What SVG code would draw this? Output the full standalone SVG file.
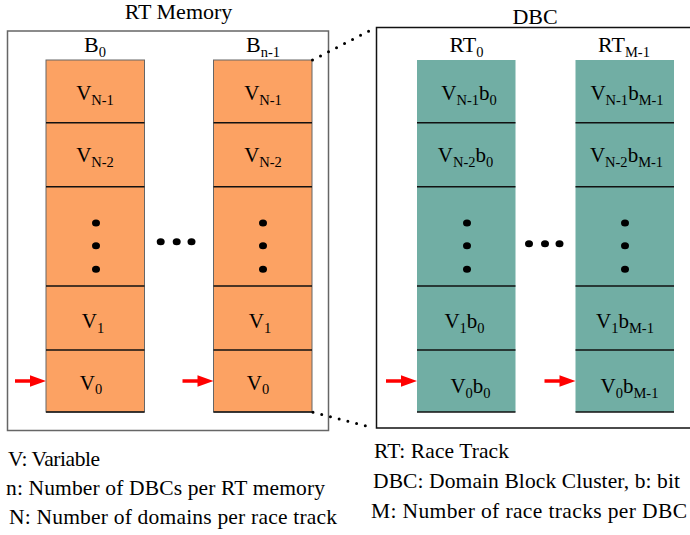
<svg xmlns="http://www.w3.org/2000/svg" width="690" height="535" viewBox="0 0 690 535">
<style>
text{font-family:"Liberation Serif","Times New Roman",serif;fill:#000}
.t{font-size:22px;text-anchor:middle}
.c{font-size:21px;text-anchor:middle}
.s{font-size:14.5px}
.lg{font-size:21.5px}
.org{fill:#FCA263;stroke:#666;stroke-width:1}
.teal{fill:#71AEA4;stroke:none}
.div{stroke:#111;stroke-width:1.5}
.box{fill:none;stroke:#666;stroke-width:1.5}
.dot{fill:#000}
.red{fill:#F00;stroke:none}
.conn{stroke:#000;stroke-width:3;stroke-linecap:round;stroke-dasharray:0 9;fill:none}
</style>
<g id="rt-memory">
<rect class="box" x="7.5" y="31" width="321" height="399.5"/>
<text class="t" x="178.5" y="19">RT Memory</text>
</g>
<g id="dbc">
<path d="M700,27.5 H376.5 V428 H700" fill="none" stroke="#111" stroke-width="1.5"/>
<text class="t" x="535" y="24">DBC</text>
</g>
<g id="b0">
<text class="t" x="95" y="52">B<tspan class="s" dy="4.5">0</tspan></text>
<rect class="org" x="46" y="60" width="98.5" height="352"/>
<line class="div" x1="46" y1="122.7" x2="144.5" y2="122.7"/>
<line class="div" x1="46" y1="186.7" x2="144.5" y2="186.7"/>
<line class="div" x1="46" y1="286" x2="144.5" y2="286"/>
<line class="div" x1="46" y1="350" x2="144.5" y2="350"/>
<line class="div" x1="46" y1="412" x2="144.5" y2="412"/>
<text class="c" x="95" y="100">V<tspan class="s" dy="4.5">N-1</tspan></text>
<text class="c" x="95" y="162">V<tspan class="s" dy="4.5">N-2</tspan></text>
<ellipse class="dot" cx="96" cy="223" rx="4" ry="3.5"/>
<ellipse class="dot" cx="96" cy="245.7" rx="4" ry="3.5"/>
<ellipse class="dot" cx="96" cy="269.3" rx="4" ry="3.5"/>
<text class="c" x="93" y="328.3">V<tspan class="s" dy="4.5">1</tspan></text>
<text class="c" x="91" y="389.5">V<tspan class="s" dy="4.5">0</tspan></text>
</g>
<g id="bn1">
<text class="t" x="263" y="52">B<tspan class="s" dy="4.5">n-1</tspan></text>
<rect class="org" x="213.5" y="60" width="98.5" height="352"/>
<line class="div" x1="213.5" y1="122.7" x2="312" y2="122.7"/>
<line class="div" x1="213.5" y1="186.7" x2="312" y2="186.7"/>
<line class="div" x1="213.5" y1="286" x2="312" y2="286"/>
<line class="div" x1="213.5" y1="350" x2="312" y2="350"/>
<line class="div" x1="213.5" y1="412" x2="312" y2="412"/>
<text class="c" x="263" y="100">V<tspan class="s" dy="4.5">N-1</tspan></text>
<text class="c" x="263" y="162">V<tspan class="s" dy="4.5">N-2</tspan></text>
<ellipse class="dot" cx="263" cy="223" rx="4" ry="3.5"/>
<ellipse class="dot" cx="263" cy="245.7" rx="4" ry="3.5"/>
<ellipse class="dot" cx="263" cy="269.3" rx="4" ry="3.5"/>
<text class="c" x="260" y="328.3">V<tspan class="s" dy="4.5">1</tspan></text>
<text class="c" x="258" y="389.5">V<tspan class="s" dy="4.5">0</tspan></text>
</g>
<g id="b-ellipsis">
<ellipse class="dot" cx="160.7" cy="241.7" rx="4" ry="3.5"/>
<ellipse class="dot" cx="176.7" cy="241.7" rx="4" ry="3.5"/>
<ellipse class="dot" cx="191.5" cy="241.7" rx="4" ry="3.5"/>
</g>
<g id="rt0">
<text class="t" x="466.5" y="52">RT<tspan class="s" dy="4.5">0</tspan></text>
<rect class="teal" x="417" y="60" width="98.5" height="352"/>
<line class="div" x1="417" y1="122.7" x2="515.5" y2="122.7"/>
<line class="div" x1="417" y1="186.7" x2="515.5" y2="186.7"/>
<line class="div" x1="417" y1="286" x2="515.5" y2="286"/>
<line class="div" x1="417" y1="350" x2="515.5" y2="350"/>
<line class="div" x1="417" y1="412" x2="515.5" y2="412"/>
<text class="c" x="469" y="100">V<tspan class="s" dy="4.5">N-1</tspan><tspan dy="-4.5">b</tspan><tspan class="s" dy="4.5">0</tspan></text>
<text class="c" x="465.5" y="162">V<tspan class="s" dy="4.5">N-2</tspan><tspan dy="-4.5">b</tspan><tspan class="s" dy="4.5">0</tspan></text>
<ellipse class="dot" cx="467" cy="223" rx="4" ry="3.5"/>
<ellipse class="dot" cx="467" cy="245.7" rx="4" ry="3.5"/>
<ellipse class="dot" cx="467" cy="269.3" rx="4" ry="3.5"/>
<text class="c" x="464.5" y="328.3">V<tspan class="s" dy="4.5">1</tspan><tspan dy="-4.5">b</tspan><tspan class="s" dy="4.5">0</tspan></text>
<text class="c" x="470.5" y="393">V<tspan class="s" dy="4.5">0</tspan><tspan dy="-4.5">b</tspan><tspan class="s" dy="4.5">0</tspan></text>
</g>
<g id="rtm1">
<text class="t" x="624" y="52">RT<tspan class="s" dy="4.5">M-1</tspan></text>
<rect class="teal" x="575.5" y="60" width="98.5" height="352"/>
<line class="div" x1="575.5" y1="122.7" x2="674" y2="122.7"/>
<line class="div" x1="575.5" y1="186.7" x2="674" y2="186.7"/>
<line class="div" x1="575.5" y1="286" x2="674" y2="286"/>
<line class="div" x1="575.5" y1="350" x2="674" y2="350"/>
<line class="div" x1="575.5" y1="412" x2="674" y2="412"/>
<text class="c" x="627" y="100">V<tspan class="s" dy="4.5">N-1</tspan><tspan dy="-4.5">b</tspan><tspan class="s" dy="4.5">M-1</tspan></text>
<text class="c" x="626.5" y="162">V<tspan class="s" dy="4.5">N-2</tspan><tspan dy="-4.5">b</tspan><tspan class="s" dy="4.5">M-1</tspan></text>
<ellipse class="dot" cx="625" cy="223" rx="4" ry="3.5"/>
<ellipse class="dot" cx="625" cy="245.7" rx="4" ry="3.5"/>
<ellipse class="dot" cx="625" cy="269.3" rx="4" ry="3.5"/>
<text class="c" x="625" y="328.3">V<tspan class="s" dy="4.5">1</tspan><tspan dy="-4.5">b</tspan><tspan class="s" dy="4.5">M-1</tspan></text>
<text class="c" x="629.5" y="393">V<tspan class="s" dy="4.5">0</tspan><tspan dy="-4.5">b</tspan><tspan class="s" dy="4.5">M-1</tspan></text>
</g>
<g id="rt-ellipsis">
<ellipse class="dot" cx="529" cy="243.7" rx="4" ry="3.5"/>
<ellipse class="dot" cx="545" cy="243.7" rx="4" ry="3.5"/>
<ellipse class="dot" cx="559.5" cy="243.7" rx="4" ry="3.5"/>
</g>
<g id="connectors">
<line class="conn" x1="312.5" y1="60" x2="372" y2="29.5"/>
<line class="conn" x1="313" y1="412.3" x2="369" y2="426.7"/>
<g id="arrows">
<path class="red" d="M15,379.3 H30 V375.3 L46,381 L30,386.7 V382.7 H15 Z"/>
<path class="red" d="M182.5,379.3 H197.5 V375.3 L213.5,381 L197.5,386.7 V382.7 H182.5 Z"/>
<path class="red" d="M386,379.3 H401 V375.3 L417,381 L401,386.7 V382.7 H386 Z"/>
<path class="red" d="M544.5,379.3 H559.5 V375.3 L575.5,381 L559.5,386.7 V382.7 H544.5 Z"/>
</g>
</g>
<g id="legend">
<text class="lg" x="8" y="466" textLength="92">V: Variable</text>
<text class="lg" x="6" y="495" textLength="319">n: Number of DBCs per RT memory</text>
<text class="lg" x="9" y="523.5" textLength="328">N: Number of domains per race track</text>
<text class="lg" x="374" y="458" textLength="135">RT: Race Track</text>
<text class="lg" x="373" y="487.5" textLength="307">DBC: Domain Block Cluster, b: bit</text>
<text class="lg" x="371" y="517.5" textLength="316">M: Number of race tracks per DBC</text>
</g>
</svg>
